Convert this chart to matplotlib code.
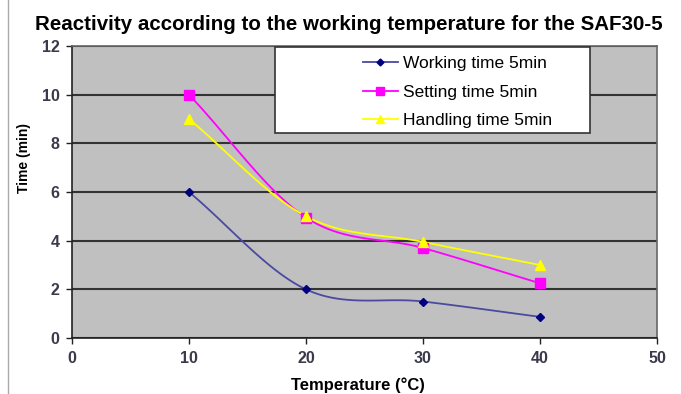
import numpy as np
import matplotlib.pyplot as plt
from matplotlib.lines import Line2D
from matplotlib.patches import Rectangle

plt.rcParams['font.family'] = ['Liberation Sans', 'DejaVu Sans']

temperature = [10, 20, 30, 40]
working_time = [6.0, 2.0, 1.5, 0.87]
setting_time = [10.0, 4.95, 3.7, 2.25]
handling_time = [9.0, 5.0, 3.95, 3.0]
labels = ['Working time 5min', 'Setting time 5min', 'Handling time 5min']


def smooth(x, y, n=30):
    # Catmull-Rom curve through the points, like a smoothed line in a spreadsheet
    x = np.asarray(x, float)
    y = np.asarray(y, float)
    px = np.concatenate([[2 * x[0] - x[1]], x, [2 * x[-1] - x[-2]]])
    py = np.concatenate([[2 * y[0] - y[1]], y, [2 * y[-1] - y[-2]]])
    xs, ys = [], []
    t = np.linspace(0, 1, n)
    for i in range(1, len(px) - 2):
        for p, out in ((px, xs), (py, ys)):
            p0, p1, p2, p3 = p[i - 1], p[i], p[i + 1], p[i + 2]
            out.extend(0.5 * (2 * p1 + (-p0 + p2) * t
                              + (2 * p0 - 5 * p1 + 4 * p2 - p3) * t ** 2
                              + (-p0 + 3 * p1 - 3 * p2 + p3) * t ** 3))
    return xs, ys


fig = plt.figure(figsize=(6.81, 3.94), dpi=100)
ax = fig.add_axes([0.1057, 0.1421, 0.8591, 0.7411])
ax.set_facecolor('#c0c0c0')

series = [
    (working_time, '#000080', 'D', 4.5),
    (setting_time, '#ff00ff', 's', 6.5),
    (handling_time, '#ffff00', '^', 7),
]
handles = []
for (vals, color, marker, ms), label in zip(series, labels):
    sx, sy = smooth(temperature, vals)
    lc = '#4a4aa0' if color == '#000080' else color
    ax.plot(sx, sy, color=lc, lw=1.3, zorder=3)
    ax.plot(temperature, vals, linestyle='none', marker=marker, ms=ms,
            color=color, zorder=4)
    handles.append(Line2D([], [], color=lc, lw=1.3, marker=marker, ms=ms - 1,
                          markerfacecolor=color, markeredgecolor=color))

ax.set_xlim(0, 50)
ax.set_ylim(0, 12)
ax.set_xticks(range(0, 51, 10))
ax.set_yticks(range(0, 13, 2))
ax.yaxis.grid(True, color='#333333', lw=1.5)
ax.set_axisbelow(True)
for s in ax.spines.values():
    s.set_color('#666666')
    s.set_linewidth(1.2)
ax.spines['left'].set_color('#222222')
ax.spines['bottom'].set_color('#222222')
ax.tick_params(direction='out', length=4, width=1, color='#222222',
               labelsize=11.5, labelcolor='#3a3a4a', pad=5)
for lab in ax.get_xticklabels() + ax.get_yticklabels():
    lab.set_fontweight('bold')

fig.text(0.526, 0.023, 'Temperature (°C)', ha='center', va='center',
         fontsize=12, fontweight='bold')
fig.text(0.035, 0.60, 'Time (min)', ha='center', va='center', rotation=90,
         fontsize=10, fontweight='bold')
fig.text(0.512, 0.937, 'Reactivity according to the working temperature for the SAF30-5',
         ha='center', va='center', fontsize=14.8, fontweight='bold')

# legend box with entries set towards its right side
box = Rectangle((0.404, 0.662), 0.462, 0.218, transform=fig.transFigure,
                facecolor='white', edgecolor='#333333', lw=1.2, zorder=5)
fig.add_artist(box)
fig.legend(handles, labels, loc='upper left', bbox_to_anchor=(0.533, 0.857),
           frameon=False, fontsize=12.5, handlelength=2.0, handletextpad=0.3,
           labelspacing=0.75, borderpad=0, borderaxespad=0)

fig.add_artist(Line2D([0.012, 0.012], [0, 1], transform=fig.transFigure,
                      color='#aaaaaa', lw=1))

fig.savefig('out.png', dpi=100)
